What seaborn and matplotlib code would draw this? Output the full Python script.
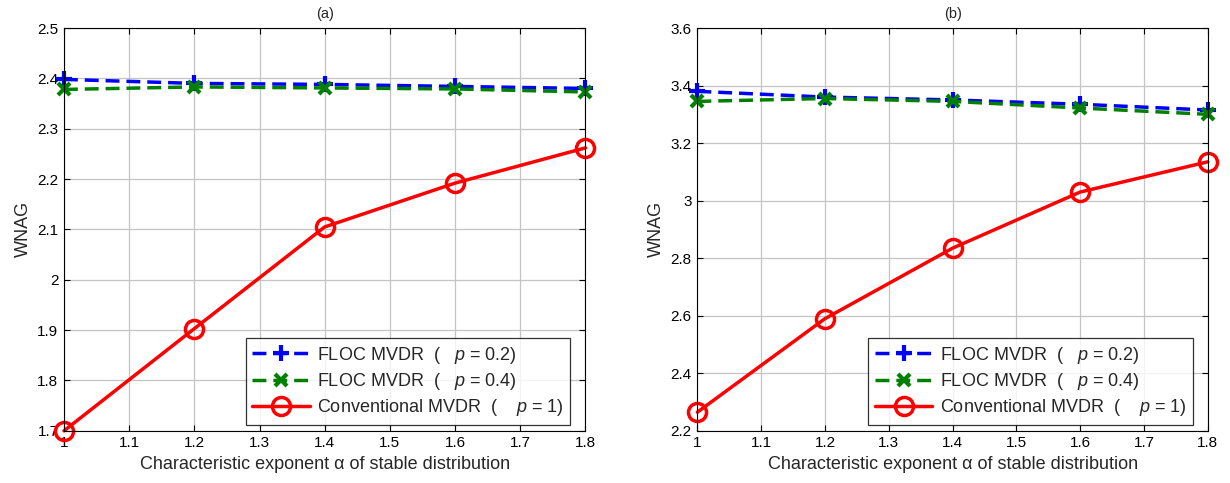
import numpy as np
import pandas as pd
import matplotlib
matplotlib.use("Agg")
import matplotlib.pyplot as plt
import seaborn as sns

alpha = [1.0, 1.2, 1.4, 1.6, 1.8]

# panel (a)
a_floc02 = [2.398, 2.390, 2.388, 2.384, 2.380]
a_floc04 = [2.378, 2.383, 2.381, 2.379, 2.373]
a_conv = [1.700, 1.903, 2.105, 2.192, 2.262]

# panel (b)
b_floc02 = [3.380, 3.360, 3.350, 3.335, 3.315]
b_floc04 = [3.345, 3.355, 3.345, 3.322, 3.300]
b_conv = [2.265, 2.590, 2.835, 3.030, 3.135]

labels = ["FLOC MVDR  (   $p$ = 0.2)", "FLOC MVDR  (   $p$ = 0.4)",
          "Conventional MVDR  (    $p$ = 1)"]

sns.set_theme(style="white")
plt.rcParams["font.family"] = ["Liberation Sans", "DejaVu Sans"]
plt.rcParams["mathtext.fontset"] = "custom"
plt.rcParams["mathtext.it"] = "Liberation Sans:italic"
plt.rcParams["mathtext.rm"] = "Liberation Sans"

fig = plt.figure(figsize=(12.3, 4.83), dpi=100)
ax_a = fig.add_axes([0.052, 0.108, 0.424, 0.834])
ax_b = fig.add_axes([0.567, 0.108, 0.415, 0.834])

styles = [
    dict(color="#0000ff", linestyle=(0, (4, 2)), marker="+", ms=12, mew=3, mfc="none"),
    dict(color="#008000", linestyle=(0, (4, 2)), marker="x", ms=9, mew=3, mfc="none"),
    dict(color="#ff0000", linestyle="-", marker="o", ms=13, mew=2.5, mfc="none"),
]


def draw(ax, series, ylim, yticks, title):
    for vals, lab, st in zip(series, labels, styles):
        df = pd.DataFrame({"alpha": alpha, "wnag": vals})
        sns.lineplot(data=df, x="alpha", y="wnag", ax=ax, label=lab,
                     color=st["color"], linestyle=st["linestyle"], lw=2.5,
                     marker=st["marker"], markersize=st["ms"],
                     markeredgewidth=st["mew"], markerfacecolor=st["mfc"],
                     markeredgecolor=st["color"], clip_on=False)
    ax.set_xlim(1.0, 1.8)
    ax.set_ylim(*ylim)
    ax.set_xticks(np.round(np.arange(1.0, 1.81, 0.1), 1))
    ax.set_xticklabels(["1", "1.1", "1.2", "1.3", "1.4", "1.5", "1.6", "1.7", "1.8"])
    ax.set_yticks(yticks)
    ax.set_yticklabels([("%g" % t) for t in yticks])
    ax.grid(True, color="#c4c4c4", lw=0.9)
    ax.set_axisbelow(True)
    ax.tick_params(direction="in", length=4, width=0.8, labelsize=11,
                   top=True, right=True, bottom=True, left=True, pad=4, colors="black")
    for s in ax.spines.values():
        s.set_color("black")
        s.set_linewidth(0.8)
    ax.set_xlabel("Characteristic exponent α of stable distribution",
                  fontsize=13, labelpad=4)
    ax.set_ylabel("WNAG", fontsize=13, labelpad=4)
    ax.set_title(title, fontsize=10.5, pad=7)
    leg = ax.legend(loc="lower right", bbox_to_anchor=(0.97, 0.015),
                    fontsize=13, frameon=True, fancybox=False,
                    edgecolor="black", handlelength=3.2, borderpad=0.35,
                    labelspacing=0.3, handletextpad=0.4, borderaxespad=0.0)
    leg.get_frame().set_linewidth(0.9)


draw(ax_a, [a_floc02, a_floc04, a_conv], (1.7, 2.5),
     np.round(np.arange(1.7, 2.51, 0.1), 1), "(a)")
draw(ax_b, [b_floc02, b_floc04, b_conv], (2.2, 3.6),
     np.round(np.arange(2.2, 3.61, 0.2), 1), "(b)")

fig.savefig("out.png", dpi=100, facecolor="white")
